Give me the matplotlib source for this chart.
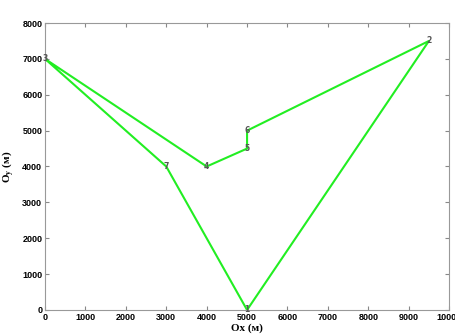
import matplotlib
matplotlib.use('Agg')
import matplotlib.pyplot as plt

# route through the points, in drawing order
labels = ['3', '4', '5', '6', '2', '1', '7', '3']
xs = [0, 4000, 5000, 5000, 9500, 5000, 3000, 0]
ys = [7000, 4000, 4500, 5000, 7500, 0, 4000, 7000]

xticks = list(range(0, 10001, 1000))
yticks = list(range(0, 8001, 1000))

fig = plt.figure(figsize=(4.55, 3.34), dpi=100)
ax = fig.add_axes([0.099, 0.072, 0.888, 0.859])

ax.plot(xs, ys, color='#22ee22', lw=1.5, zorder=2)
for x, y, s in zip(xs[:-1], ys[:-1], labels[:-1]):
    ax.text(x, y, s, fontsize=5.5, color='#555555', ha='center', va='center',
            fontweight='bold', zorder=3)

ax.set_xlim(0, 10000)
ax.set_ylim(0, 8000)
ax.set_xticks(xticks)
ax.set_yticks(yticks)
ax.tick_params(direction='in', length=3, color='#888888', top=True, right=True,
               labelsize=6.5, pad=2)
for lab in ax.get_xticklabels() + ax.get_yticklabels():
    lab.set_fontweight('bold')
    lab.set_family('Liberation Sans')
for sp in ax.spines.values():
    sp.set_color('#999999')
    sp.set_linewidth(0.8)

ax.set_xlabel('Ox (м)', family='Liberation Serif', fontweight='bold',
              fontsize=8, labelpad=1)
ax.set_ylabel('O$_\\mathregular{y}$ (м)', family='Liberation Serif',
              fontweight='bold', fontsize=8, labelpad=4)

fig.savefig('out.png', dpi=100)
